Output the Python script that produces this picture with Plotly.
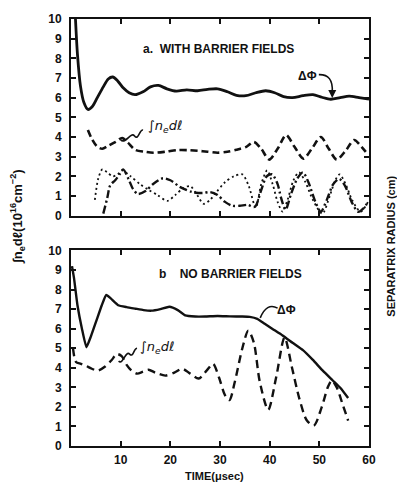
import plotly.graph_objects as go
from plotly.subplots import make_subplots

# ---- panel a: with barrier fields ----
a_phi_t = [0.9, 1.3, 1.9, 2.6, 3.4, 4.3, 5.3, 6.5, 7.5, 8.4, 9.4, 10.5, 11.7, 12.9, 14.5, 16.0, 17.6,
           19.3, 21.2, 23.3, 25.5, 27.5, 29.5, 31.5, 33.3, 35.2, 37.2, 39.2, 41.0, 42.8, 44.6, 46.7,
           48.7, 50.5, 52.3, 54.2, 56.0, 58.0, 60.0]
a_phi = [10.0, 8.2, 6.6, 5.75, 5.4, 5.55, 6.0, 6.55, 6.95, 7.05, 6.85, 6.5, 6.25, 6.15, 6.3, 6.55, 6.62,
         6.45, 6.33, 6.4, 6.35, 6.42, 6.45, 6.3, 6.12, 6.1, 6.25, 6.35, 6.25, 6.05, 6.0, 6.1,
         6.15, 6.02, 5.92, 6.0, 6.08, 6.0, 5.92]

a_nel_t = [3.4, 4.2, 5.3, 6.3, 7.5, 9.0, 10.3, 11.5, 12.9, 14.8, 16.6, 19.0, 21.4, 23.5, 25.5, 27.5,
           29.5, 31.5, 33.3, 35.3, 36.8, 38.3, 39.9, 41.6, 43.3, 45.0, 46.8, 48.6, 50.3, 51.9, 53.5,
           55.3, 57.0, 58.5, 59.8]
a_nel = [4.35, 3.9, 3.5, 3.4, 3.55, 3.75, 3.95, 3.7, 3.35, 3.25, 3.2, 3.25, 3.33, 3.33, 3.3, 3.25,
         3.2, 3.25, 3.35, 3.5, 3.75, 3.4, 2.85, 3.4, 4.1, 3.5, 2.9, 3.45, 4.0, 3.4, 2.85,
         3.3, 3.85, 3.5, 3.1]

a_r1_t = [4.8, 5.5, 6.3, 7.3, 8.4, 9.4, 10.3, 12.0, 13.9, 15.7, 17.4, 19.4, 21.0, 22.6, 24.0, 25.4,
          26.7, 28.0, 29.3, 31.0, 32.8, 34.5, 35.8, 37.2, 38.3, 39.5, 40.6, 41.6, 42.6, 43.6, 44.8,
          45.9, 47.2, 48.7, 50.6, 52.1, 53.2, 54.1, 55.3, 56.6, 58.3, 59.8]
a_r1 = [0.8, 1.9, 2.35, 2.2, 2.0, 2.1, 2.3, 2.0, 1.6, 1.3, 1.05, 0.75, 1.05, 1.4, 1.5, 1.05,
        0.6, 0.8, 1.2, 1.7, 2.0, 2.1, 1.5, 0.4, 1.6, 2.3, 1.6, 0.7, 0.2, 0.8, 1.8,
        2.2, 1.7, 0.8, 0.1, 1.0, 1.8, 2.1, 1.6, 0.8, 0.2, 0.7]

a_r2_t = [6.5, 7.3, 7.9, 8.9, 9.8, 10.5, 11.6, 12.5, 13.5, 15.0, 16.5, 18.5, 20.0, 22.0, 24.4, 26.5,
          28.0, 29.5, 31.0, 32.5, 34.0, 35.5, 37.0, 38.3, 39.4, 40.5, 41.6, 42.3, 43.2, 44.3, 45.6,
          46.7, 47.8, 49.2, 50.3, 51.5, 52.8, 54.0, 55.2, 56.5, 57.8, 59.0, 59.8]
a_r2 = [0.1, 0.9, 1.55, 1.8, 2.1, 2.35, 1.85, 1.35, 1.1, 1.25, 1.6, 1.9, 1.8, 1.45, 1.2, 1.15,
        1.2, 1.05, 0.7, 0.5, 0.5, 0.55, 0.45, 1.3, 2.0, 2.1, 1.6, 0.9, 0.3, 1.1, 1.9,
        2.2, 1.7, 0.7, 0.2, 0.8, 1.6, 1.87, 1.5, 0.7, 0.2, 0.4, 0.7]

# ---- panel b: no barrier fields ----
b_phi_t = [0.2, 0.6, 1.3, 2.2, 3.1, 4.0, 5.1, 6.2, 7.1, 8.0, 9.5, 11.2, 13.0, 14.6, 16.2, 18.0, 19.8,
           21.5, 23.0, 25.0, 27.0, 29.5, 32.0, 34.5, 36.0, 37.5, 39.0, 40.8, 42.6, 44.6, 46.7, 48.7,
           50.7, 52.7, 54.3, 55.8]
b_phi = [9.2, 8.6, 7.2, 6.0, 5.05, 5.6, 6.4, 7.2, 7.72, 7.55, 7.2, 7.1, 7.02, 6.95, 6.92, 7.0, 7.12,
         6.95, 6.68, 6.62, 6.62, 6.65, 6.63, 6.62, 6.6, 6.5, 6.25, 5.95, 5.65, 5.28, 4.9, 4.4,
         3.85, 3.35, 2.95, 2.45]

b_nel_t = [0.4, 1.0, 2.0, 3.0, 4.2, 5.4, 6.8, 8.2, 9.2, 10.2, 11.2, 12.2, 13.3, 14.5, 15.6, 17.0,
           19.0, 20.8, 22.4, 24.0, 25.7, 27.3, 28.6, 29.8, 31.0, 31.9, 33.0, 34.5, 35.7, 36.8, 38.0,
           39.7, 41.3, 43.0, 44.5, 46.0, 47.5, 48.9, 50.5, 51.7, 52.5, 53.5, 54.6, 55.8]
b_nel = [5.0, 4.3, 4.2, 4.1, 3.95, 3.85, 4.05, 4.4, 4.7, 4.6, 4.15, 3.85, 3.7, 3.8, 3.9, 3.75,
         3.6, 3.75, 3.95, 3.7, 3.45, 3.85, 4.2, 3.5, 2.6, 2.35, 3.3, 5.0, 5.9, 5.3, 3.3,
         1.85, 3.5, 5.55, 4.0, 2.4, 1.3, 1.05, 2.0, 3.0, 3.35, 3.0, 2.2, 1.3]

x_ticks = [0, 10, 20, 30, 40, 50, 60]
x_ticktext = ["", "10", "20", "30", "40", "50", "60"]
y_ticks = list(range(0, 11))

INK = "#111111"
FONT = "Liberation Sans"

fig = make_subplots(rows=2, cols=1, vertical_spacing=0.0)

def curve(t, v, row, width, dash, smooth=0.8):
    fig.add_trace(go.Scatter(x=t, y=v, mode="lines",
                             line=dict(color=INK, width=width, dash=dash,
                                       shape="spline", smoothing=smooth),
                             hoverinfo="skip", showlegend=False), row=row, col=1)

curve(a_phi_t, a_phi, 1, 2.8, "solid")
curve(a_nel_t, a_nel, 1, 2.6, "7px,4px")
curve(a_r1_t, a_r1, 1, 1.8, "2px,3px")
curve(a_r2_t, a_r2, 1, 2.4, "8px,3px,2px,3px")
curve(b_phi_t, b_phi, 2, 2.4, "solid", 0.4)
curve(b_nel_t, b_nel, 2, 2.4, "8px,5px")

tick_font = dict(family=FONT, size=12, color=INK, weight="bold")
axis_common = dict(range=[0, 60], showline=True, linecolor=INK, linewidth=2, mirror="allticks",
                   ticks="inside", ticklen=5, tickwidth=2, tickcolor=INK, showgrid=False,
                   zeroline=False, tickvals=x_ticks, ticktext=x_ticktext, ticklabelstandoff=2,
                   tickfont=tick_font)
yaxis_common = dict(range=[0, 10], showline=True, linecolor=INK, linewidth=2, mirror="allticks",
                    ticks="inside", ticklen=5, tickwidth=2, tickcolor=INK, showgrid=False,
                    zeroline=False, tickvals=y_ticks, ticklabelstandoff=5,
                    tickfont=tick_font)

fig.update_xaxes(**axis_common)
fig.update_xaxes(showticklabels=False, row=1, col=1)
fig.update_yaxes(**yaxis_common)

fig.update_layout(
    width=397, height=484,
    margin=dict(l=71, r=28, t=16, b=38),
    paper_bgcolor="white", plot_bgcolor="white",
    xaxis=dict(domain=[0, 1]), yaxis=dict(domain=[0.5395, 1.0]),
    xaxis2=dict(domain=[0, 1]), yaxis2=dict(domain=[0.0, 0.458]),
    font=dict(family=FONT, color=INK),
)

label_font = dict(family=FONT, size=12, color=INK, weight="bold")
hand_font = dict(family="DejaVu Sans", size=13, color=INK)

anns = [
    # panel titles
    dict(x=29.6, y=8.5, xref="x", yref="y", showarrow=False,
         text="a.  WITH BARRIER FIELDS", font=label_font),
    dict(x=32.2, y=8.8, xref="x2", yref="y2", showarrow=False,
         text="b    NO BARRIER FIELDS", font=label_font),
    # curve labels
    dict(x=47.6, y=7.1, xref="x", yref="y", showarrow=False, text="ΔΦ", font=label_font),
    dict(x=43.4, y=6.95, xref="x2", yref="y2", showarrow=False, text="ΔΦ", font=label_font),
    dict(x=18.9, y=4.55, xref="x", yref="y", showarrow=False,
         text="<i>∫n<sub>e</sub>dℓ</i>", font=hand_font),
    dict(x=17.4, y=5.05, xref="x2", yref="y2", showarrow=False,
         text="<i>∫n<sub>e</sub>dℓ</i>", font=hand_font),
    # arrowhead on the top ΔΦ pointer
    dict(x=52.6, y=5.98, xref="x", yref="y", ax=0, ay=-9, showarrow=True,
         arrowhead=2, arrowsize=1, arrowwidth=1.6, arrowcolor=INK, text=""),
    # axis titles
    dict(x=0.48, y=-0.07, xref="paper", yref="paper", showarrow=False,
         text="TIME(μsec)", xanchor="center", yanchor="middle",
         font=dict(family=FONT, size=11, color=INK, weight="bold")),
    dict(x=-0.181, y=0.537, xref="paper", yref="paper", showarrow=False,
         xanchor="center", yanchor="middle",
         text="∫n<sub>e</sub>dℓ(10<sup>16</sup>cm<sup>−2</sup>)", textangle=-90,
         font=dict(family=FONT, size=13, color=INK, weight="bold")),
    dict(x=1.074, y=0.467, xref="paper", yref="paper", showarrow=False,
         xanchor="center", yanchor="middle",
         text="SEPARATRIX RADIUS (cm)", textangle=-90,
         font=dict(family=FONT, size=11, color=INK, weight="bold")),
]
fig.update_layout(annotations=anns)

# curved pointer lines drawn as paths in data space
fig.add_shape(type="path", xref="x", yref="y",
              path="M 49.9,7.17 Q 52.8,7.2 52.6,6.3", line=dict(color=INK, width=1.6))
fig.add_shape(type="path", xref="x2", yref="y2",
              path="M 41.6,7.05 Q 39.4,7.35 38.1,6.55", line=dict(color=INK, width=1.6))
fig.add_shape(type="path", xref="x", yref="y",
              path="M 10.0,3.85 C 11.0,3.6 12.0,4.3 12.8,4.05 S 13.8,4.4 14.5,4.35",
              line=dict(color=INK, width=1.6))
fig.add_shape(type="path", xref="x2", yref="y2",
              path="M 9.6,4.35 C 10.4,4.1 11.0,4.9 11.8,4.7 S 12.6,5.0 13.3,5.0",
              line=dict(color=INK, width=1.6))

fig.write_html("out.html")
